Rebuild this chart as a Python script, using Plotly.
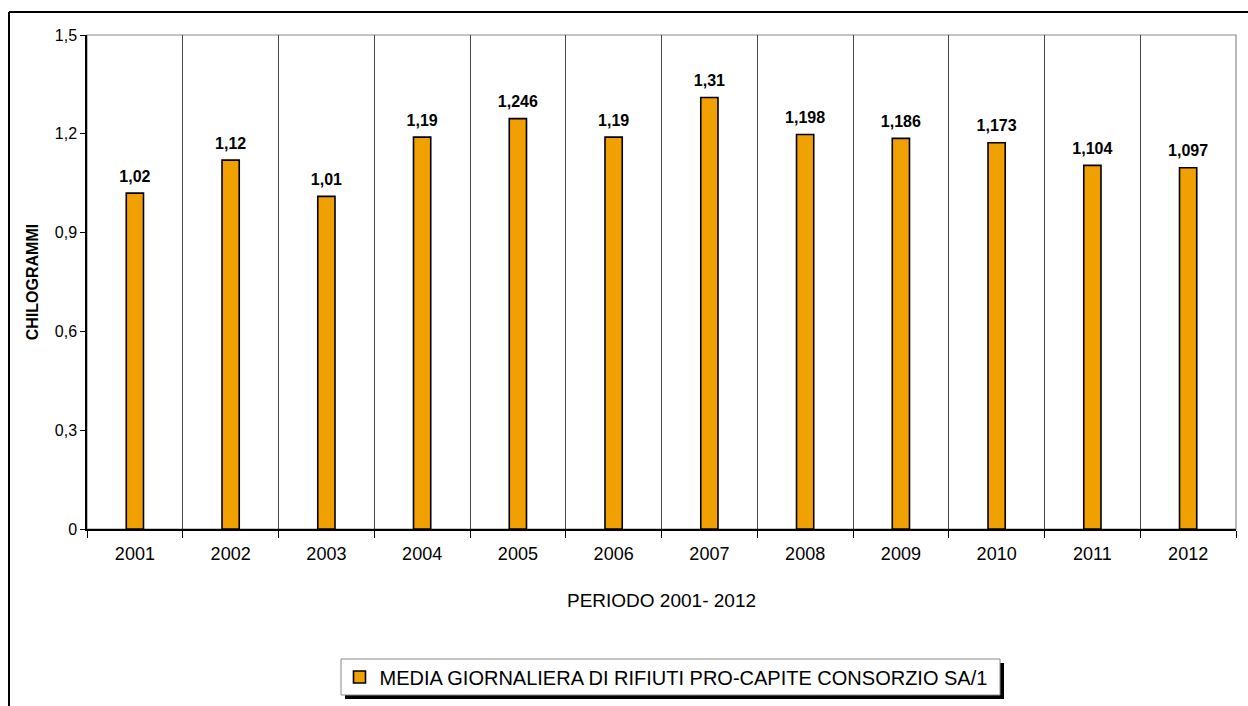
import plotly.graph_objects as go

# Media giornaliera di rifiuti pro-capite (kg) per anno
anni = ["2001", "2002", "2003", "2004", "2005", "2006",
        "2007", "2008", "2009", "2010", "2011", "2012"]
kg_procapite = [1.02, 1.12, 1.01, 1.19, 1.246, 1.19,
                1.31, 1.198, 1.186, 1.173, 1.104, 1.097]
nome_serie = "MEDIA GIORNALIERA DI RIFIUTI PRO-CAPITE CONSORZIO SA/1"

W, H = 1248, 706
L, R, T, B = 87, 12, 35, 177
pw, ph = W - L - R, H - T - B
FONT = "Arial, Liberation Sans, sans-serif"


def px_x(x):
    return (x - L) / pw


def px_y(y):
    return (H - B - y) / ph


etichette = [f"{v}".replace(".", ",") for v in kg_procapite]

fig = go.Figure()
fig.add_trace(go.Bar(
    x=anni,
    y=kg_procapite,
    name=nome_serie,
    width=0.18,
    marker=dict(color="#F0A000", line=dict(color="black", width=1.6)),
    showlegend=True,
))
# etichette con il valore sopra ogni barra (marker invisibile per distanziarle)
fig.add_trace(go.Scatter(
    x=anni,
    y=kg_procapite,
    mode="markers+text",
    marker=dict(size=10, opacity=0),
    text=etichette,
    textposition="top center",
    textfont=dict(family=FONT, size=16, color="black", weight="bold"),
    showlegend=False,
    cliponaxis=False,
    hoverinfo="skip",
))

shapes = [
    # bordo grigio dell'area del grafico
    dict(type="rect", xref="paper", yref="paper", x0=0, x1=1, y0=0, y1=1,
         line=dict(color="#8a8a8a", width=1.2), layer="below"),
    # cornice esterna
    dict(type="line", xref="paper", yref="paper",
         x0=px_x(9), x1=px_x(W + 5), y0=px_y(12), y1=px_y(12),
         line=dict(color="black", width=2)),
    dict(type="line", xref="paper", yref="paper",
         x0=px_x(9), x1=px_x(9), y0=px_y(12), y1=px_y(H + 5),
         line=dict(color="black", width=2)),
    # ombra e riquadro della legenda
    dict(type="rect", xref="paper", yref="paper",
         x0=px_x(345), x1=px_x(1004), y0=px_y(699), y1=px_y(663),
         fillcolor="black", line=dict(width=0), layer="below"),
    dict(type="rect", xref="paper", yref="paper",
         x0=px_x(341), x1=px_x(1000), y0=px_y(695), y1=px_y(659),
         fillcolor="white", line=dict(color="#8a8a8a", width=1), layer="below"),
]

fig.update_layout(
    width=W, height=H,
    margin=dict(l=L, r=R, t=T, b=B, autoexpand=False),
    paper_bgcolor="white",
    plot_bgcolor="white",
    separators=",.",
    font=dict(family=FONT, color="black"),
    shapes=shapes,
    showlegend=True,
    legend=dict(
        orientation="h",
        xref="container", yref="container",
        x=666 / W, xanchor="center",
        y=1 - 677 / H, yanchor="middle",
        bgcolor="rgba(0,0,0,0)",
        borderwidth=0,
        font=dict(family=FONT, size=20, color="black"),
        itemwidth=30,
    ),
    xaxis=dict(
        type="category",
        range=[-0.5, len(anni) - 0.5],
        tickson="boundaries",
        showgrid=True, gridcolor="#4a4a4a", gridwidth=1,
        showline=True, linecolor="black", linewidth=1.5,
        ticks="outside", ticklen=7, tickcolor="black",
        ticklabelstandoff=8,
        tickfont=dict(size=18),
        title=dict(text="PERIODO 2001- 2012", font=dict(size=19), standoff=30),
    ),
    yaxis=dict(
        range=[0, 1.5],
        tickvals=[0, 0.3, 0.6, 0.9, 1.2, 1.5],
        showgrid=False, zeroline=False,
        showline=True, linecolor="black", linewidth=1.5,
        ticks="outside", ticklen=5, tickcolor="black",
        tickfont=dict(size=16),
        title=dict(text="<b>CHILOGRAMMI</b>", font=dict(size=16), standoff=12),
    ),
)

fig.write_html("out.html")
